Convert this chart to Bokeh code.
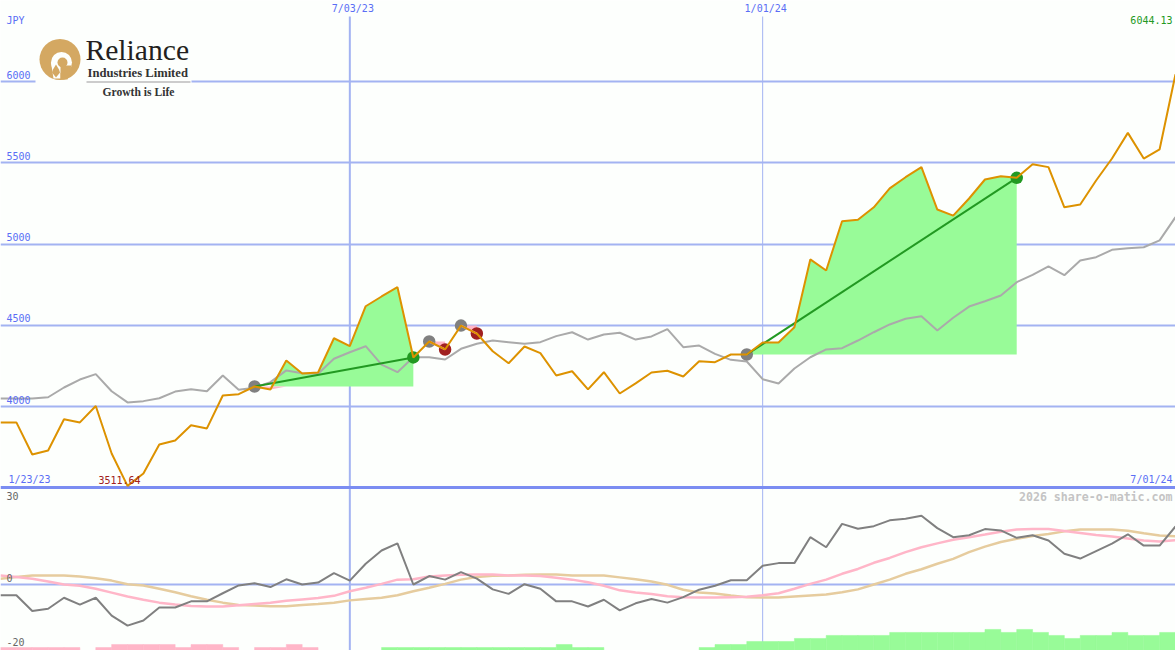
from bokeh.core.properties import value
from bokeh.plotting import figure
from bokeh.models import Range1d, FixedTicker
from bokeh.embed import file_html
from bokeh.resources import INLINE

# ---------- data ----------
prices = [3902,3902,3705,3729,3922,3902,4003,3711,3511.64,3588,3766,3791,3885,3865,4068,4076,4123,4105,4283,4203,
          4209,4420,4371,4617,4677,4734,4302,4400,4351,4498,4449,4340,4266,4369,4328,4191,4217,4105,4211,4080,
          4142,4209,4220,4185,4279,4273,4320,4320,4394,4394,4488,4905,4837,5140,5149,5226,5342,5411,5473,5212,
          5175,5280,5397,5417,5407,5491,5473,5226,5243,5391,5526,5684,5526,5583,6044.13]
moving_avg = [4049,4049,4049,4057,4117,4166,4199,4094,4025,4033,4051,4092,4106,4094,4191,4103,4115,4150,4222,4205,
              4201,4294,4334,4371,4258,4211,4303,4303,4289,4355,4386,4406,4396,4386,4396,4433,4457,4412,4443,4454,
              4412,4431,4476,4365,4375,4324,4287,4277,4168,4142,4234,4303,4351,4359,4406,4457,4505,4540,4556,4468,
              4546,4615,4648,4683,4765,4810,4862,4808,4898,4919,4964,4974,4980,5022,5165]
macd = [-3.3,-3.3,-8.2,-7.5,-4.1,-6.2,-4.1,-9.6,-12.7,-11.1,-7.1,-7.1,-5.2,-5.2,-2.7,-0.3,0.4,-0.8,1.6,0,
        0.6,3.5,1.2,6.4,10.5,12.7,0,2.6,1.5,3.8,1.8,-1.5,-2.9,0.1,-1.3,-5.2,-5.2,-6.8,-4.7,-8.0,
        -5.8,-4.5,-5.6,-3.9,-1.6,-0.4,1.3,1.3,5.8,6.6,6.6,14.6,11.5,18.7,17.2,18.0,19.8,20.3,21.2,17.4,
        14.6,15.2,17.1,16.7,14.4,15.2,13.6,9.5,8.0,10.3,12.6,15.5,12.0,12.0,17.9]
signal_fast = [2.8,2.3,1.8,0.9,0,-0.4,-1.3,-2.5,-3.7,-4.7,-5.6,-6.2,-6.6,-6.8,-6.8,-6.4,-6.0,-5.6,-5.0,-4.6,
               -4.2,-3.5,-2.1,-1.0,0.2,1.5,1.6,2.5,2.8,3.0,3.1,3.1,2.8,2.8,2.6,2.1,1.5,0.7,-0.4,-1.8,
               -2.5,-2.9,-3.6,-3.9,-4.0,-4.0,-3.9,-3.8,-3.3,-2.7,-1.3,0.2,1.5,3.3,4.8,6.7,8.2,10.0,11.5,12.7,
               13.8,14.6,15.4,16.3,17.0,17.1,17.1,16.5,15.9,15.3,14.8,14.2,13.6,13.3,13.7]
signal_slow = [1.8,2.3,2.8,2.8,2.8,2.5,1.9,1.2,0.1,-0.3,-1.3,-2.4,-3.6,-4.7,-5.6,-6.3,-6.5,-6.7,-6.7,-6.3,
               -6.0,-5.6,-4.9,-4.5,-4.1,-3.3,-2.1,-1.0,0.2,1.5,2.3,2.7,2.8,3.0,3.1,3.1,2.8,2.8,2.8,2.2,
               1.6,0.9,-0.1,-1.6,-2.5,-2.8,-3.4,-3.9,-4.0,-4.0,-3.7,-3.4,-3.1,-2.4,-1.5,0,1.5,3.3,4.7,6.4,
               7.9,10.0,11.7,13.1,14.1,15.0,15.6,16.4,17.0,17.0,17.0,16.6,15.8,15.1,14.9]
histogram = [-1,-1,-1,-1,-1,0,-1,-2,-2,-2,-2,-1,-2,-2,-1,0,-1,-1,-2,-1,
             0,0,0,0,1,1,1,1,1,1,1,1,1,1,1,2,1,1,0,0,
             0,0,0,0,1,2,2,3,3,3,4,4,5,5,5,5,6,6,6,6,
             6,6,7,6,7,6,5,4,5,5,6,5,5,6]
price_ticks = [4000, 4500, 5000, 5500, 6000]
price_tick_labels = ["4000", "4500", "5000", "5500", "6000"]
macd_ticks = [30, 0, -20]
macd_tick_labels = ["30", "0", "-20"]
date_idx = [22, 48]
date_labels = ["7/03/23", "1/01/24"]
first_date, last_date = "1/23/23", "7/01/24"
wins = [(16, 26), (47, 64)]
losses = [(27, 28), (29, 30)]

# ---------- layout of the 1175x650 picture ----------
W, H = 1175, 650
PX_PER_PRICE = 0.1625          # 81.25px per 500
PX_PER_MACD = 3.24
PRICE_Y0, MACD_Y0 = 406, 584   # pixel rows of 4000 and of macd 0
HIST_UNIT = 0.93               # macd units per histogram step

def price_at(py):
    return 4000 + (PRICE_Y0 - py) / PX_PER_PRICE
def macd_at(py):
    return (MACD_Y0 - py) / PX_PER_MACD
def idx_at(px):
    return px * (len(prices) - 1) / W

BG = "#fdfffd"; GRID = "#a3b3f2"; SEP = "#7b8df2"; BLUE = "#5a6ef5"; GREEN = "#98fb98"; PINK = "#ffb6c8"
ORANGE = "#dd9200"; DARK = "#808080"; GREY = "#aaaaaa"; TAN = "#e6cc9e"; RED = "#a02020"; WIN = "#229922"
MONO = "DejaVu Sans Mono"; SERIF = "Liberation Serif"

p = figure(width=W, height=H, output_backend="svg", toolbar_location=None,
           x_range=Range1d(0, len(prices) - 1), y_range=Range1d(price_at(H), price_at(0)),
           min_border=0, outline_line_color=None, background_fill_color=BG, border_fill_color=BG)
p.extra_y_ranges = {"macd": Range1d(macd_at(H), macd_at(0))}
p.xaxis.visible = False
p.yaxis.visible = False
p.yaxis.ticker = FixedTicker(ticks=price_ticks)
p.xgrid.visible = False
p.ygrid.ticker = FixedTicker(ticks=price_ticks)
p.ygrid.grid_line_color = GRID
p.ygrid.grid_line_width = 2

xs = list(range(len(prices)))

# structural rules
p.segment(x0=[date_idx[0]], y0=[price_at(H)], x1=[date_idx[0]], y1=[price_at(16)], line_color=GRID, line_width=2)
p.segment(x0=[date_idx[1]], y0=[price_at(H)], x1=[date_idx[1]], y1=[price_at(16)], line_color=GRID, line_width=1)
p.segment(x0=[0], y0=[0], x1=[xs[-1]], y1=[0], y_range_name="macd", line_color=GRID, line_width=2)
p.segment(x0=[0], y0=[macd_at(487)], x1=[xs[-1]], y1=[macd_at(487)], y_range_name="macd", line_color=SEP, line_width=3)

# histogram
hb = macd_at(H)
for sign, col in ((1, GREEN), (-1, PINK)):
    idx = [i for i, v in enumerate(histogram) if v * sign > 0]
    p.quad(left=idx, right=[i + 1 for i in idx], bottom=hb,
           top=[hb + abs(histogram[i]) * HIST_UNIT for i in idx],
           y_range_name="macd", fill_color=col, line_color=col, line_width=0.5)

# trade fills
for a, b in wins + losses:
    x = xs[a:b + 1]
    entry = prices[a]
    p.varea(x=x, y1=[entry] * len(x), y2=[max(v, entry) for v in prices[a:b + 1]], fill_color=GREEN)
    p.varea(x=x, y1=[entry] * len(x), y2=[min(v, entry) for v in prices[a:b + 1]], fill_color=PINK)

# moving average and macd lines
p.line(xs, moving_avg, line_color=GREY, line_width=2)
p.line(xs, signal_slow, y_range_name="macd", line_color=TAN, line_width=2.5)
p.line(xs, signal_fast, y_range_name="macd", line_color=PINK, line_width=2.5)
p.line(xs, macd, y_range_name="macd", line_color=DARK, line_width=2)

# trade markers and links
for a, b in wins:
    p.scatter([a], [prices[a]], size=12.5, fill_color=DARK, line_color=None)
    p.scatter([b], [prices[b]], size=12.5, fill_color=WIN, line_color=None)
    p.line([a, b], [prices[a], prices[b]], line_color=WIN, line_width=2)
for a, b in losses:
    p.scatter([a], [prices[a]], size=12.5, fill_color=DARK, line_color=None)
    p.scatter([b], [prices[b]], size=12.5, fill_color=RED, line_color=None)
    p.line([a, b], [prices[a], prices[b]], line_color=PINK, line_width=2)

p.line(xs, prices, line_color=ORANGE, line_width=2)

# ---------- texts ----------
def txt(x, y, text, color, size="10px", align="left", font=MONO, style="normal", **kw):
    p.text(x=[x], y=[y], text=[text], text_color=color, text_font=value(font), text_font_size=size,
           text_align=align, text_baseline="middle", text_font_style=style, **kw)

# logo
p.quad(left=idx_at(35), right=idx_at(191), bottom=price_at(99), top=price_at(36), fill_color=BG, line_color=None)
p.scatter([idx_at(59.5)], [price_at(59)], size=41, fill_color="#d4a862", line_color=None)
p.scatter([idx_at(61)], [price_at(62)], size=21, fill_color=BG, line_color=None)
p.patch([idx_at(v) for v in (50.5, 60, 60, 53)], [price_at(v) for v in (62, 62, 78, 78)], fill_color=BG, line_color=None)
p.scatter([idx_at(62)], [price_at(62)], size=10, fill_color="#d4a862", line_color=None)
p.patch([idx_at(v) for v in (60, 71, 67, 60)], [price_at(v) for v in (65, 65, 79, 79)], fill_color="#d4a862", line_color=None)
p.patch([idx_at(v) for v in (55.5, 58.5, 59.5, 55.5, 51.5, 52.5)], [price_at(v) for v in (64, 69, 72, 77, 72, 69)], fill_color="#d4a862", line_color=None)
txt(idx_at(85), price_at(49.5), "Reliance", "#231f20", "29.6px", font=SERIF)
txt(idx_at(87), price_at(72), "Industries Limited", "#333333", "12.6px", font=SERIF, style="bold")
p.segment(x0=[idx_at(86)], y0=[price_at(81.5)], x1=[idx_at(190)], y1=[price_at(81.5)], line_color="#cccccc", line_width=2)
txt(idx_at(102), price_at(92), "Growth is Life", "#333333", "11.6px", font=SERIF, style="bold")

# price scale
txt(idx_at(6), price_at(19.5), "JPY", BLUE)
for v, s in zip(price_ticks, price_tick_labels):
    txt(idx_at(6), v, s, BLUE, y_offset=-7)
for i, s in zip(date_idx, date_labels):
    txt(i, price_at(8), s, BLUE, align="center", x_offset=3)
txt(idx_at(8), price_at(479), first_date, BLUE)
txt(idx_at(1172), price_at(479), last_date, BLUE, align="right")
txt(idx_at(1172), price_at(19.5), f"{prices[-1]:.2f}", "#229922", align="right")
txt(idx_at(98), price_at(479), f"{min(prices):.2f}", RED)

# macd scale
for v, s, row in zip(macd_ticks, macd_tick_labels, (495, 577, 641)):
    txt(idx_at(6), price_at(row), s, "#666666")
txt(idx_at(1172), price_at(496), "2026 share-o-matic.com", "#c4c4c4", "11.6px", align="right", style="bold")

open("out.html", "w").write(file_html(p, INLINE))
